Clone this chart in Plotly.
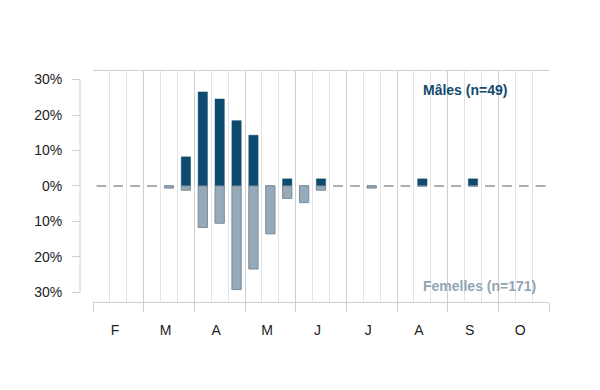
import plotly.graph_objects as go

months = ["F", "M", "A", "M", "J", "J", "A", "S", "O"]
decades_per_month = 3
# percentages per decade (10-day period), Feb -> Oct
males_pct = [0, 0, 0, 0, 0, 8.2, 26.5, 24.5, 18.4, 14.3, 0, 2.0, 0, 2.0, 0,
             0, 0, 0, 0, 2.0, 0, 0, 2.0, 0, 0, 0, 0]
females_pct = [0, 0, 0, 0, 0.6, 1.2, 11.7, 10.5, 29.2, 23.4, 13.5, 3.5, 4.7, 1.2, 0,
               0, 0.6, 0, 0, 0, 0, 0, 0, 0, 0, 0, 0]
y_tickvals = [-30, -20, -10, 0, 10, 20, 30]
y_ticktext = ["30%", "20%", "10%", "0%", "10%", "20%", "30%"]
male_label = "Mâles (n=49)"
female_label = "Femelles (n=171)"

n = len(males_pct)
x = list(range(n))
BAR_W = 0.55

MALE_C = "#0c4a6e"
FEM_C = "#97aaba"
FEM_LINE = "#7b8b97"
GRID = "#e3e3e3"
GRID_M = "#cfcfcf"
FONT = "Liberation Sans, Arial, sans-serif"

fig = go.Figure()

# zero dashes where both series are zero
dx, dy = [], []
for i in x:
    if males_pct[i] == 0 and females_pct[i] == 0:
        dx += [i - BAR_W / 2, i + BAR_W / 2, None]
        dy += [0, 0, None]
fig.add_trace(go.Scatter(x=dx, y=dy, mode="lines",
                         line=dict(color="#cdcdcd", width=1),
                         hoverinfo="skip", showlegend=False))

fig.add_trace(go.Bar(x=x, y=males_pct, width=BAR_W,
                     marker=dict(color=MALE_C, line=dict(color=MALE_C, width=0.5)),
                     showlegend=False))
fig.add_trace(go.Bar(x=x, y=[-v for v in females_pct], width=BAR_W,
                     marker=dict(color=FEM_C, line=dict(color=FEM_LINE, width=1)),
                     showlegend=False))

W, H = 600, 390
ml, mr, mt, mb = 0, 51, 71, 88
pw = W - ml - mr
x_left = 93
y_axis_x = 80

month_bounds = [k * decades_per_month - 0.5 for k in range(len(months) + 1)]
month_centers = [k * decades_per_month + 1 - 0.2 for k in range(len(months))]

fig.update_layout(
    width=W, height=H,
    margin=dict(l=ml, r=mr, t=mt, b=mb),
    paper_bgcolor="white", plot_bgcolor="white",
    barmode="overlay",
    font=dict(family=FONT, size=14, color="#222222"),
    xaxis=dict(
        domain=[(x_left - ml) / pw, 1],
        range=[-0.5, n - 0.5],
        tickvals=month_bounds,
        ticktext=[""] * len(month_bounds),
        ticks="outside", ticklen=9, tickcolor=GRID_M, tickwidth=1,
        showgrid=True, gridcolor=GRID_M, gridwidth=1,
        minor=dict(tick0=-0.5, dtick=1, showgrid=True, gridcolor=GRID, ticks=""),
        showline=True, linecolor=GRID_M, linewidth=1, mirror=True,
        zeroline=False, fixedrange=True,
    ),
    xaxis2=dict(
        overlaying="x", anchor="y", side="bottom",
        domain=[(x_left - ml) / pw, 1],
        range=[-0.5, n - 0.5],
        tickvals=month_centers, ticktext=months,
        ticks="", showgrid=False, showline=False, zeroline=False,
        ticklabelstandoff=18,
        tickfont=dict(size=14, color="#222222"),
    ),
    yaxis=dict(
        anchor="free", position=(y_axis_x - ml) / pw,
        range=[-32.7, 32.4],
        tickvals=y_tickvals, ticktext=y_ticktext,
        ticks="outside", ticklen=8, tickcolor=GRID_M,
        showgrid=False, zeroline=False, showline=False,
        tickfont=dict(size=14, color="#222222"),
        ticklabelstandoff=7,
    ),
    shapes=[dict(type="line", xref="paper", yref="y",
                 x0=(y_axis_x - ml) / pw, x1=(y_axis_x - ml) / pw,
                 y0=y_tickvals[0], y1=y_tickvals[-1],
                 line=dict(color=GRID_M, width=1), layer="below")],
    annotations=[
        dict(text=f"<b>{male_label}</b>", x=18.95, y=27.1, xref="x", yref="y",
             xanchor="left", yanchor="middle", showarrow=False,
             font=dict(size=14, color="#124b6f", family=FONT)),
        dict(text=f"<b>{female_label}</b>", x=18.95, y=-28.2, xref="x", yref="y",
             xanchor="left", yanchor="middle", showarrow=False,
             font=dict(size=14, color="#93a4b3", family=FONT)),
    ],
)

# invisible helper trace so the label axis is drawn
fig.add_trace(go.Scatter(x=[0], y=[0], xaxis="x2", mode="markers",
                         marker=dict(opacity=0), hoverinfo="skip", showlegend=False))

fig.write_html("out.html")
